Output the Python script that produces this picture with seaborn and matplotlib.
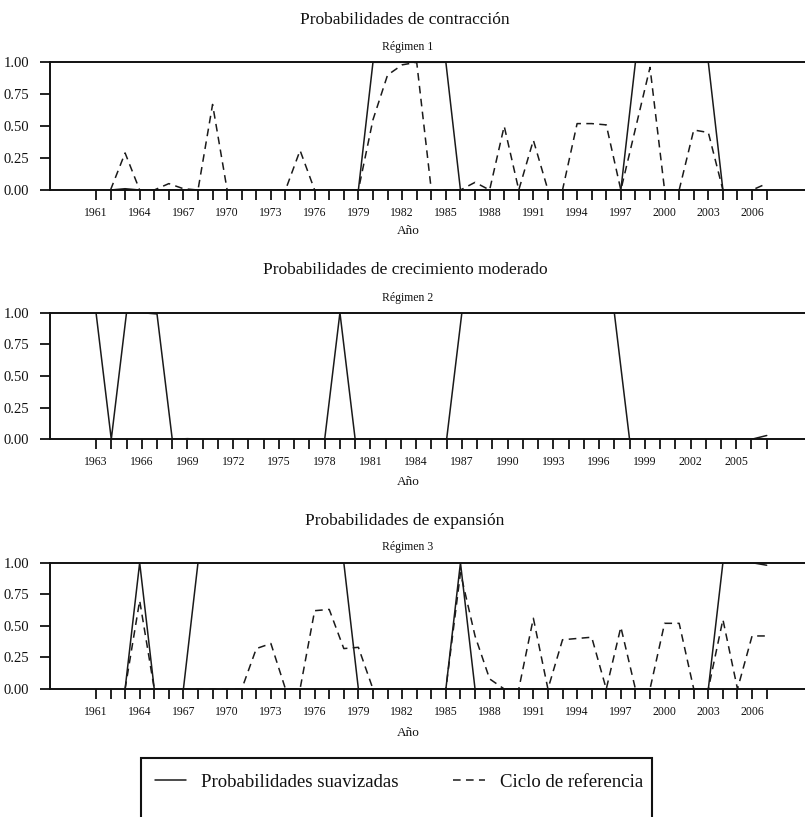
import numpy as np
import pandas as pd
import matplotlib
matplotlib.use("Agg")
import matplotlib.pyplot as plt
import seaborn as sns
from matplotlib.patches import Rectangle

# ---------------- data ----------------
years1 = list(range(1962, 2008))
suav1 = ([0, 0.01, 0, 0, 0, 0, 0, 0] +                      # 1962-1969
         [0, 0, 0, 0, 0, 0, 0, 0, 0, 0] +                   # 1970-1979
         [1, 1, 1, 1, 1, 1, 0, 0, 0, 0] +                   # 1980-1989
         [0, 0, 0, 0, 0, 0, 0, 0, 1, 1] +                   # 1990-1999
         [1, 1, 1, 1, 0, 0, 0, 0])                          # 2000-2007
ciclo1 = ([0, 0.29, 0, 0, 0.05, 0.01, 0, 0.67] +
          [0, 0, 0, 0, 0, 0.31, 0, 0, 0, 0] +
          [0.55, 0.90, 0.98, 1.0, 0, 0, 0, 0.06, 0, 0.50] +
          [0, 0.39, 0, 0, 0.52, 0.52, 0.51, 0, 0.48, 0.96] +
          [0, 0, 0.47, 0.45, 0, 0, 0, 0.05])

years2 = list(range(1963, 2008))
suav2 = ([1, 0, 1, 1, 0.99, 0, 0.005] +                     # 1963-1969
         [0, 0, 0, 0, 0, 0, 0, 0, 0, 1] +
         [0, 0, 0, 0, 0, 0, 0, 1, 1, 1] +
         [1, 1, 1, 1, 1, 1, 1, 1, 0, 0] +
         [0, 0, 0, 0, 0, 0, 0, 0.03])

years3 = list(range(1963, 2008))
suav3 = ([0, 1, 0, 0, 0, 1, 1] +
         [1, 1, 1, 1, 1, 1, 1, 1, 1, 0] +
         [0, 0, 0, 0, 0, 0, 1, 0, 0, 0] +
         [0, 0, 0, 0, 0, 0, 0, 0, 0, 0] +
         [0, 0, 0, 0, 1, 1, 1, 0.98])
ciclo3 = ([0, 0.70, 0, 0, 0, 0, 0] +
          [0, 0, 0.32, 0.36, 0, 0, 0.62, 0.63, 0.32, 0.33] +
          [0, 0, 0, 0, 0, 0, 0.92, 0.42, 0.08, 0] +
          [0, 0.56, 0, 0.39, 0.40, 0.41, 0, 0.49, 0, 0] +
          [0.52, 0.52, 0, 0, 0.55, 0, 0.42, 0.42])

titles = ["Probabilidades de contracción",
          "Probabilidades de crecimiento moderado",
          "Probabilidades de expansión"]
subtitles = ["Régimen 1", "Régimen 2", "Régimen 3"]
xlabel = "Año"
ytick_vals = [0.0, 0.25, 0.5, 0.75, 1.0]
ytick_labels = ["0.00", "0.25", "0.50", "0.75", "1.00"]
legend_labels = ["Probabilidades suavizadas", "Ciclo de referencia"]

# ---------------- style ----------------
sns.set_theme(style="ticks")
plt.rcParams["font.family"] = ["Liberation Serif", "DejaVu Serif"]
plt.rcParams["text.color"] = "#111111"
plt.rcParams["axes.edgecolor"] = "#111111"
plt.rcParams["xtick.color"] = "#111111"
plt.rcParams["ytick.color"] = "#111111"

W, H = 805, 817
fig = plt.figure(figsize=(W / 100, H / 100), dpi=100)

def fx(px):
    return px / W

def fy(py):
    return 1 - py / H

panels = [
    dict(top=62.3, bot=190.0, xlim=(1957.85, 2009.63), t0=1961,
         title_y=20, sub_y=46.7, lab_y=231,
         series=[(years1, suav1, "solid"), (years1, ciclo1, "dash")]),
    dict(top=312.7, bot=439.3, xlim=(1959.98, 2009.51), t0=1963,
         title_y=270, sub_y=298, lab_y=482,
         series=[(years2, suav2, "solid")]),
    dict(top=562.7, bot=689.0, xlim=(1957.85, 2009.63), t0=1961,
         title_y=521, sub_y=547, lab_y=733,
         series=[(years3, suav3, "solid"), (years3, ciclo3, "dash")]),
]

dash_style = (0, (5, 3.5))
handles = {}
for i, p in enumerate(panels):
    ax = fig.add_axes([fx(50), fy(p["bot"]), fx(805 - 50), (p["bot"] - p["top"]) / H])
    for (yrs, vals, kind) in p["series"]:
        if kind == "solid":
            sns.lineplot(x=yrs, y=vals, ax=ax, color="#1a1a1a", linewidth=1.1)
        else:
            sns.lineplot(x=yrs, y=vals, ax=ax, color="#1a1a1a", linewidth=1.1,
                         linestyle=dash_style)
        handles.setdefault(kind, ax.lines[-1])
    ax.set_xlim(*p["xlim"])
    ax.set_ylim(0, 1)
    ticks = list(range(p["t0"], 2008))
    ax.set_xticks(ticks)
    ax.set_xticklabels([str(t) if (t - p["t0"]) % 3 == 0 else "" for t in ticks],
                       fontsize=8.5)
    ax.set_yticks(ytick_vals)
    ax.set_yticklabels(ytick_labels, fontsize=10.5)
    ax.tick_params(axis="x", length=7, width=1.3, pad=5, direction="out")
    ax.tick_params(axis="y", length=7, width=1.3, pad=8, direction="out")
    for s in ["top", "bottom", "left"]:
        ax.spines[s].set_linewidth(1.4)
    ax.spines["right"].set_visible(False)
    ax.set_xlabel("")
    ax.set_ylabel("")
    ax.grid(False)
    fig.text(fx(405), fy(p["title_y"]), titles[i], ha="center", va="center",
             fontsize=12.5)
    fig.text(fx(408), fy(p["sub_y"]), subtitles[i], ha="center", va="center",
             fontsize=8.5)
    fig.text(fx(408), fy(p["lab_y"]), xlabel, ha="center", va="center",
             fontsize=9.5)

leg = fig.legend([handles["solid"], handles["dash"]], legend_labels,
                 loc="center", bbox_to_anchor=(fx(399), fy(782)), ncol=2,
                 frameon=False, fontsize=13.5, handlelength=1.7,
                 handletextpad=0.8, columnspacing=2.9)
rect = Rectangle((fx(141), -0.05), fx(652 - 141), fy(758) + 0.05,
                 transform=fig.transFigure, fill=False, edgecolor="#111111",
                 linewidth=1.5, clip_on=False)
fig.patches.append(rect)

fig.savefig("out.png", dpi=100)
